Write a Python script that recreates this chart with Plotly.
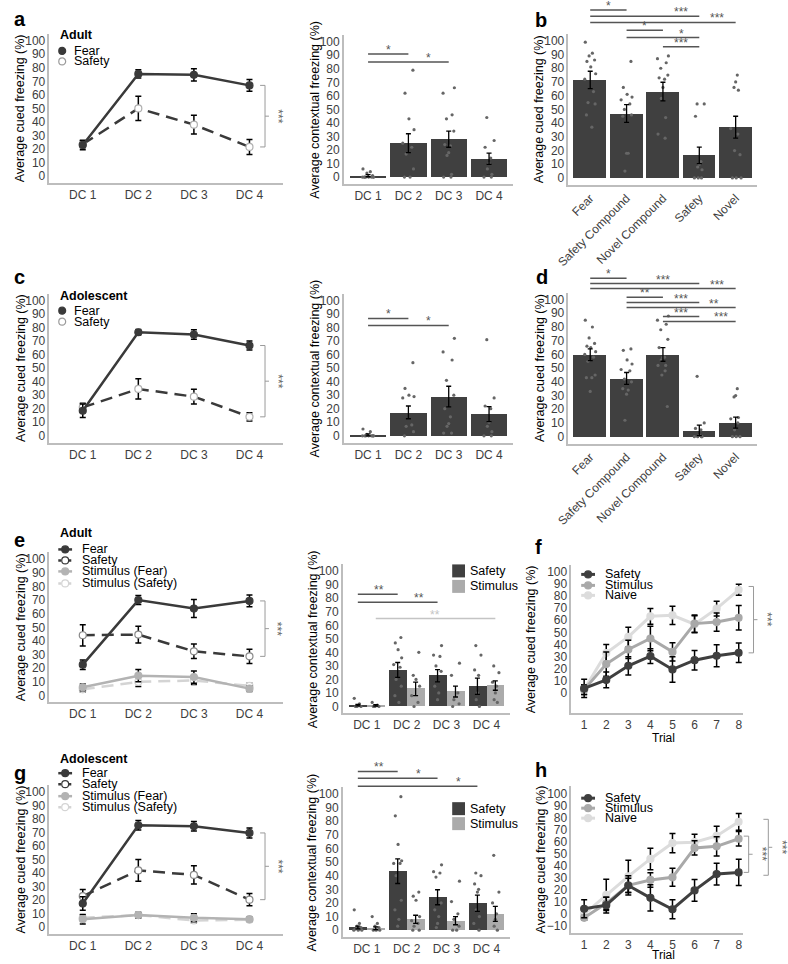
import plotly.graph_objects as go

W, H = 788, 964

# ---------------------------------------------------------------- data
DAYS = ["DC 1", "DC 2", "DC 3", "DC 4"]
PROBES = ["Fear", "Safety Compound", "Novel Compound", "Safety", "Novel"]
TRIALS = [1, 2, 3, 4, 5, 6, 7, 8]
PCT_TICKS = [0, 10, 20, 30, 40, 50, 60, 70, 80, 90, 100]
H_TICKS = [-10, 0, 10, 20, 30, 40, 50, 60, 70, 80, 90, 100]

# a - adult cued freezing across discrimination days
a_fear = [23, 75.5, 74.8, 67]
a_fear_err = [3.5, 3, 4.5, 4.3]
a_safety = [23.5, 50, 38, 21.5]
a_safety_err = [2.5, 9, 7, 5.5]

# a - adult contextual freezing
a_ctx = [1, 25, 28, 13.5]
a_ctx_err = [0.8, 7, 6, 4.2]
a_ctx_pts = [
    [6, 4, 3, 1, 0, 0, 0, 0, 0, 0, 0, 0],
    [79, 62, 43, 35, 25, 22, 17, 6, 0, 0],
    [66, 62, 46, 43, 34, 24, 23, 18, 16, 2, 0, 0],
    [44, 27, 22, 14, 10, 6, 2, 0, 0],
]

# b - adult probe test
b_cued = [71.5, 47, 63, 16.5, 37]
b_cued_err = [6.3, 6.5, 6.8, 6, 8]
b_pts = [
    [99, 91, 89, 86, 85, 81, 76, 72, 63, 55, 54, 46, 37],
    [85, 66, 61, 59, 57, 54, 50, 46, 45, 18, 18, 5],
    [89, 87, 84, 80, 75, 73, 72, 66, 58, 44, 32, 29],
    [54, 54, 45, 12, 10, 8, 6, 0, 0, 0],
    [75, 70, 66, 64, 36, 32, 20, 17, 0, 0, 0],
]

# c - adolescent cued freezing
c_fear = [18.5, 76.5, 74.8, 66.7]
c_fear_err = [5, 2, 3.5, 3.3]
c_safety = [21, 34.6, 28.9, 14]
c_safety_err = [3, 7.5, 5.5, 3]

# c - adolescent contextual freezing
c_ctx = [0.7, 17.3, 29, 16]
c_ctx_err = [0.7, 4.7, 7.6, 5.5]
c_ctx_pts = [
    [5, 3, 1, 0, 0, 0, 0, 0, 0, 0, 0],
    [54, 35, 30, 29, 28, 8, 7, 3, 0],
    [72, 62, 56, 41, 30, 20, 14, 9, 7, 2, 2],
    [71, 28, 22, 20, 10, 7, 3, 0, 0],
]

# d - adolescent probe test
d_cued = [59.7, 42.5, 60, 4.6, 10.3]
d_cued_err = [4.3, 4.3, 5, 3.8, 4]
d_pts = [
    [85, 80, 72, 68, 66, 65, 62, 60, 58, 55, 45, 43, 43, 33],
    [64, 63, 56, 53, 49, 48, 42, 40, 35, 34, 31, 12],
    [88, 85, 82, 78, 71, 65, 58, 58, 56, 52, 52, 48, 45, 22],
    [44, 10, 6, 5, 1, 0, 0, 0, 0],
    [35, 30, 29, 14, 13, 10, 5, 0, 0, 0],
]

# e - adult, safety vs stimulus groups
e_fear = [22.6, 70, 63.8, 69.4]
e_fear_err = [3.5, 3.3, 6.6, 4.3]
e_safety = [44.2, 44.7, 32.4, 28.7]
e_safety_err = [7.8, 6.2, 5.3, 5.3]
e_stim_fear = [6, 14.5, 13.5, 5]
e_stim_fear_err = [2.5, 4.5, 4.5, 2]
e_stim_safety = [4.5, 10, 11, 7]
e_stim_safety_err = [2, 3.5, 3, 2]

e_ctx_safety = [1, 27, 22.7, 15]
e_ctx_safety_err = [0.6, 5.5, 4.5, 6]
e_ctx_stim = [0.8, 13, 11, 15.5]
e_ctx_stim_err = [0.6, 5, 4, 3.5]
e_ctx_safety_pts = [[6, 2, 0, 0, 0], [51, 47, 42, 36, 31, 29, 20, 15, 8, 3],
                    [45, 38, 37, 30, 26, 15, 10, 5], [45, 38, 27, 23, 10, 5, 0]]
e_ctx_stim_pts = [[3, 1, 0, 0, 0], [40, 23, 20, 15, 8, 3, 0],
                  [32, 23, 10, 5, 2, 0], [30, 25, 18, 15, 10, 5, 3]]

# f - adult fear acquisition by trial
f_safety = [4, 11, 22.6, 30.5, 19.6, 27.2, 30.8, 33.2]
f_safety_err = [7.5, 6.5, 7.5, 6, 10.5, 8, 9, 8]
f_stimulus = [3, 24, 36, 45, 34, 57.2, 58.5, 62]
f_stimulus_err = [4, 10, 7.5, 10, 7.5, 7, 7.5, 10]
f_naive = [3, 33, 46.3, 63.2, 64, 56.7, 69.5, 85]
f_naive_err = [4, 7, 8, 6.5, 7.5, 7, 6, 4.5]

# g - adolescent, safety vs stimulus groups
g_fear = [17.5, 75.4, 74.6, 69.7]
g_fear_err = [5, 3.5, 3.5, 3.7]
g_safety = [23, 42, 38.7, 20.4]
g_safety_err = [5, 8, 6.7, 4.5]
g_stim_fear = [6, 9, 7, 6]
g_stim_fear_err = [3.5, 2, 3, 1.5]
g_stim_safety = [7, 9, 5, 5.5]
g_stim_safety_err = [2, 2, 2, 1.5]

g_ctx_safety = [2, 43.3, 24.2, 19.8]
g_ctx_safety_err = [1, 9, 5.5, 6]
g_ctx_stim = [1.5, 8, 7, 12]
g_ctx_stim_err = [1, 3, 3, 5.5]
g_ctx_safety_pts = [[15, 5, 3, 2, 1, 0, 0, 0], [98, 84, 63, 51, 49, 49, 40, 22, 15, 8, 3],
                    [48, 43, 42, 39, 20, 15, 10, 5, 2], [42, 40, 34, 30, 28, 15, 10, 5, 0]]
g_ctx_stim_pts = [[10, 5, 3, 2, 0, 0, 0], [28, 25, 22, 10, 7, 5, 3, 0, 0],
                  [36, 21, 12, 8, 3, 0, 0], [55, 28, 20, 12, 8, 3, 0]]

# h - adolescent fear acquisition by trial
h_safety = [4.5, 7.5, 23.9, 13.6, 4.1, 19.8, 33.4, 34.8]
h_safety_err = [7.5, 6.5, 8, 11, 8, 9, 9, 11]
h_stimulus = [-3, 9, 24, 28.5, 30.7, 55.2, 56.5, 62.8]
h_stimulus_err = [2, 5, 6, 6, 7.5, 6, 8, 6]
h_naive = [0, 16, 31.5, 46, 59.2, 60, 65.2, 76.9]
h_naive_err = [5, 13, 13.5, 9, 8, 6.5, 8, 7]

# significance lines: (from, to, height, label, label position)
a_sig = [(0, 1, 91, "*", 0.5), (0, 2, 85, "*", 1.5)]
b_sig = [(0, 1, 122.5, "*", 0.5), (0, 3, 118, "***", 2.5), (0, 4, 113.4, "***", 3.5),
         (1, 2, 107.8, "*", 1.5), (1, 3, 102.4, "*", 2.5), (2, 3, 95.6, "***", 2.5)]
c_sig = [(0, 1, 86.7, "*", 0.5), (0, 2, 81.5, "*", 1.5)]
d_sig = [(0, 1, 115.5, "*", 0.5), (0, 3, 111.7, "***", 2.0), (0, 4, 108, "***", 3.5),
         (1, 2, 101.7, "**", 1.5), (1, 3, 97.8, "***", 2.5), (1, 4, 94.2, "**", 3.4),
         (2, 3, 87.6, "***", 2.5), (2, 4, 84, "***", 3.6)]
e_sig = [(-0.225, 0.775, 83, "**", 0.31), (-0.225, 1.775, 77, "**", 1.32)]
e_sig_stim = [(0.225, 3.225, 65, "**", 1.72)]
g_sig = [(-0.225, 0.775, 116.6, "**", 0.3), (-0.225, 1.775, 111.5, "*", 1.3),
         (-0.225, 2.775, 105.6, "*", 2.3)]

# ---------------------------------------------------------------- layout geometry (pixels)
PANELS = {
    "a1": dict(x0=38, x1=275, yt=33, yb=182, xr=(-0.6, 3.6), yr=(-5, 105)),
    "a2": dict(x0=337, x1=509, yt=34, yb=183, xr=(-0.6, 3.6), yr=(-5, 105)),
    "b": dict(x0=565, x1=757, yt=33, yb=184, xr=(-0.6, 4.6), yr=(-5, 105)),
    "c1": dict(x0=38, x1=275, yt=293, yb=442, xr=(-0.6, 3.6), yr=(-5, 105)),
    "c2": dict(x0=337, x1=509, yt=293, yb=442, xr=(-0.6, 3.6), yr=(-5, 105)),
    "d": dict(x0=565, x1=757, yt=292, yb=443, xr=(-0.6, 4.6), yr=(-5, 105)),
    "e1": dict(x0=38, x1=275, yt=552, yb=702, xr=(-0.6, 3.6), yr=(-5, 105)),
    "e2": dict(x0=336, x1=506, yt=564, yb=713, xr=(-0.6, 3.6), yr=(-5, 105)),
    "f": dict(x0=568, x1=742, yt=565, yb=713, xr=(0.42, 8.18), yr=(-16.4, 105)),
    "g1": dict(x0=38, x1=275, yt=785, yb=934, xr=(-0.6, 3.6), yr=(-5, 105)),
    "g2": dict(x0=336, x1=506, yt=787, yb=937, xr=(-0.6, 3.6), yr=(-5, 105)),
    "h": dict(x0=568, x1=742, yt=786, yb=933, xr=(0.42, 8.18), yr=(-15.7, 106.6)),
}
ORDER = list(PANELS)

FONT = "Liberation Sans, Arial, sans-serif"
TICK = "#3d3d3d"
AXIS = "#bdbdbd"
SIG = "#555555"
BRK = "#9a9a9a"
DARK = "#3a3a3a"
BAR_DARK = "#404040"
BAR_LIGHT = "#ababab"
STIM_F = "#b3b3b3"
STIM_S = "#d4d4d4"
PT = "#666666"
F_SAF, F_STIM, F_NAIVE = "#3f3f3f", "#a9a9a9", "#dcdcdc"

JIT = [-0.9, 0.4, -0.2, 0.8, -0.6, 0.1, 1.0, -1.0, 0.6, -0.4, 0.9, -0.7, 0.3, 0.0, -0.3, 0.5]

fig = go.Figure()
shapes, annots = [], []


def ref(name):
    i = ORDER.index(name) + 1
    return ("x", "y") if i == 1 else (f"x{i}", f"y{i}")


def dx(p, v):
    return p["x0"] + (v - p["xr"][0]) / (p["xr"][1] - p["xr"][0]) * (p["x1"] - p["x0"])


def dy(p, v):
    return p["yb"] - (v - p["yr"][0]) / (p["yr"][1] - p["yr"][0]) * (p["yb"] - p["yt"])


def px(x):
    return x / W


def py(y):
    return 1 - y / H


def line(x0, y0, x1, y1, color, width=1.0, dash="solid"):
    shapes.append(dict(type="line", xref="paper", yref="paper", x0=px(x0), y0=py(y0),
                       x1=px(x1), y1=py(y1), line=dict(color=color, width=width, dash=dash)))


def text(x, y, s, size=12.5, color="black", xanchor="left", bold=False, angle=0, yshift=0):
    annots.append(dict(x=px(x), y=py(y), xref="paper", yref="paper", text=f"<b>{s}</b>" if bold else s,
                       showarrow=False, xanchor=xanchor, yanchor="middle", textangle=angle,
                       yshift=yshift, font=dict(size=size, color=color, family=FONT)))


def setup_axes(name, tickvals, ticktext, yticks, tickangle=0):
    p = PANELS[name]
    xr, yr = ref(name)
    common = dict(showline=True, linecolor=AXIS, linewidth=1.5, showgrid=False, zeroline=False,
                  ticks="", tickfont=dict(size=12, color=TICK, family=FONT), fixedrange=True)
    fig.update_layout(**{
        xr.replace("x", "xaxis"): dict(domain=[px(p["x0"]), px(p["x1"])], range=list(p["xr"]),
                                       anchor=yr, tickvals=tickvals, ticktext=ticktext,
                                       tickangle=tickangle, **common),
        yr.replace("y", "yaxis"): dict(domain=[py(p["yb"]), py(p["yt"])], range=list(p["yr"]),
                                       anchor=xr, tickvals=yticks, **common),
    })


def series(name, xs, ys, errs, color, width, fill, edge, dash="solid", ms=7):
    xr, yr = ref(name)
    fig.add_trace(go.Scatter(
        x=xs, y=ys, mode="lines+markers", xaxis=xr, yaxis=yr, showlegend=False, hoverinfo="skip",
        line=dict(color=color, width=width, dash=dash),
        marker=dict(size=ms, color=fill, line=dict(color=edge, width=1.2)),
        error_y=dict(type="data", array=errs, color="black", thickness=1.5, width=3),
    ))


def bars(name, means, errs, pts, color, offset=0.0, width=0.9, jit=0.14):
    xr, yr = ref(name)
    xs = [i + offset for i in range(len(means))]
    fig.add_trace(go.Bar(x=xs, y=means, width=width, xaxis=xr, yaxis=yr, showlegend=False,
                         hoverinfo="skip", marker=dict(color=color, line=dict(width=0))))
    jx, jy = [], []
    for i, vals in enumerate(pts):
        for k, v in enumerate(vals):
            jx.append(xs[i] + JIT[(k + 3 * i) % len(JIT)] * jit)
            jy.append(v)
    fig.add_trace(go.Scatter(x=jx, y=jy, mode="markers", xaxis=xr, yaxis=yr, showlegend=False,
                             hoverinfo="skip", marker=dict(size=3.2, color=PT)))
    fig.add_trace(go.Scatter(x=xs, y=means, mode="markers", xaxis=xr, yaxis=yr, showlegend=False,
                             hoverinfo="skip", marker=dict(size=1, color="rgba(0,0,0,0)"),
                             error_y=dict(type="data", array=errs, color="black",
                                          thickness=1.3, width=2.5)))


def sig_lines(name, specs, color=SIG):
    p = PANELS[name]
    for a, b, v, lab, xs in specs:
        y = dy(p, v)
        line(dx(p, a), y, dx(p, b), y, color, 1.5)
        text(dx(p, xs), y, lab, size=12, color=color, xanchor="center", yshift=4)


def bracket(name, xv, top, bottom, lab, gap=13):
    p = PANELS[name]
    x = dx(p, xv)
    yt, yb = dy(p, top), dy(p, bottom)
    ym = (yt + yb) / 2
    line(x, yt, x, yb, BRK)
    line(x - 5, yt, x, yt, BRK)
    line(x - 5, yb, x, yb, BRK)
    line(x, ym, x + 4, ym, BRK)
    text(x + gap, ym, lab, size=12, color="#666666", xanchor="center", angle=90)


def key(cx, cy, color, fill, edge, label, with_line, dash="solid", lw=2.5):
    if with_line:
        line(cx - 7, cy, cx + 7, cy, color, lw, dash)
    shapes.append(dict(type="circle", xref="paper", yref="paper", x0=px(cx - 3.5), x1=px(cx + 3.5),
                       y0=py(cy + 3.5), y1=py(cy - 3.5), fillcolor=fill,
                       line=dict(color=edge, width=1.2)))
    text(cx + (15 if with_line else 10), cy, label)


def box_key(x, cy, color, label):
    shapes.append(dict(type="rect", xref="paper", yref="paper", x0=px(x), x1=px(x + 13),
                       y0=py(cy + 6.5), y1=py(cy - 6.5), fillcolor=color, line=dict(width=0)))
    text(x + 16, cy, label)


x4 = [0, 1, 2, 3]
x5 = [0, 1, 2, 3, 4]

# ---------------------------------------------------------------- axes
for nm in ["a1", "a2", "c1", "c2", "e1", "e2", "g1", "g2"]:
    setup_axes(nm, x4, DAYS, PCT_TICKS)
for nm in ["b", "d"]:
    setup_axes(nm, x5, PROBES, PCT_TICKS, tickangle=-45)
setup_axes("f", TRIALS, [str(t) for t in TRIALS], PCT_TICKS)
setup_axes("h", TRIALS, [str(t) for t in TRIALS], H_TICKS)

# ---------------------------------------------------------------- a / c : cued freezing lines
for nm, fear, fe, saf, se, title, ys in [
    ("a1", a_fear, a_fear_err, a_safety, a_safety_err, "Adult", (34.5, 50, 60.5)),
    ("c1", c_fear, c_fear_err, c_safety, c_safety_err, "Adolescent", (295, 310, 321)),
]:
    series(nm, x4, saf, se, DARK, 2.5, "white", "#b0b0b0", dash="12px,7px")
    series(nm, x4, fear, fe, DARK, 2.5, DARK, DARK)
    bracket(nm, 3.28, fear[-1], saf[-1], "***")
    text(47, ys[0], title, bold=True)
    key(51, ys[1], DARK, DARK, DARK, "Fear", False)
    key(51, ys[2], DARK, "white", "#9a9a9a", "Safety", False)

# ---------------------------------------------------------------- e / g : four-line panels
for nm, data, title, ys in [
    ("e1", (e_fear, e_fear_err, e_safety, e_safety_err, e_stim_fear, e_stim_fear_err,
            e_stim_safety, e_stim_safety_err), "Adult", (533, 549, 560, 571, 583)),
    ("g1", (g_fear, g_fear_err, g_safety, g_safety_err, g_stim_fear, g_stim_fear_err,
            g_stim_safety, g_stim_safety_err), "Adolescent", (758.5, 773, 784, 796, 807)),
]:
    fr, fre, sf, sfe, stf, stfe, sts, stse = data
    series(nm, x4, sts, stse, STIM_S, 2.5, "white", STIM_S, dash="12px,7px")
    series(nm, x4, stf, stfe, STIM_F, 2.5, STIM_F, STIM_F)
    series(nm, x4, sf, sfe, DARK, 2.5, "white", "#8a8a8a", dash="12px,7px")
    series(nm, x4, fr, fre, DARK, 2.5, DARK, DARK)
    bracket(nm, 3.28, fr[-1], sf[-1], "***")
    text(47, ys[0], title, bold=True)
    key(54, ys[1], DARK, DARK, DARK, "Fear", True)
    key(54, ys[2], DARK, "white", DARK, "Safety", True, dash="3px,2px")
    key(54, ys[3], STIM_F, STIM_F, STIM_F, "Stimulus (Fear)", True)
    key(54, ys[4], STIM_S, "white", STIM_S, "Stimulus (Safety)", True, dash="3px,2px")

# ---------------------------------------------------------------- contextual freezing bars
bars("a2", a_ctx, a_ctx_err, a_ctx_pts, BAR_DARK)
sig_lines("a2", a_sig)
bars("c2", c_ctx, c_ctx_err, c_ctx_pts, BAR_DARK)
sig_lines("c2", c_sig)

for nm, saf, se, sp, stm, ste, stp, specs, ky in [
    ("e2", e_ctx_safety, e_ctx_safety_err, e_ctx_safety_pts, e_ctx_stim, e_ctx_stim_err,
     e_ctx_stim_pts, e_sig, (570.5, 586)),
    ("g2", g_ctx_safety, g_ctx_safety_err, g_ctx_safety_pts, g_ctx_stim, g_ctx_stim_err,
     g_ctx_stim_pts, g_sig, (808.5, 823.5)),
]:
    bars(nm, saf, se, sp, BAR_DARK, offset=-0.225, width=0.45, jit=0.1)
    bars(nm, stm, ste, stp, BAR_LIGHT, offset=0.225, width=0.45, jit=0.1)
    sig_lines(nm, specs)
    box_key(447, ky[0], BAR_DARK, "Safety")
    box_key(447, ky[1], BAR_LIGHT, "Stimulus")
sig_lines("e2", e_sig_stim, color="#c4c4c4")

# ---------------------------------------------------------------- probe test bars
bars("b", b_cued, b_cued_err, b_pts, BAR_DARK, jit=0.15)
sig_lines("b", b_sig)
bars("d", d_cued, d_cued_err, d_pts, BAR_DARK, jit=0.15)
sig_lines("d", d_sig)

# ---------------------------------------------------------------- trial curves
for nm, sets, ys in [
    ("f", ((f_naive, f_naive_err, F_NAIVE), (f_stimulus, f_stimulus_err, F_STIM),
           (f_safety, f_safety_err, F_SAF)), (574, 585, 595)),
    ("h", ((h_naive, h_naive_err, F_NAIVE), (h_stimulus, h_stimulus_err, F_STIM),
           (h_safety, h_safety_err, F_SAF)), (798, 808, 818)),
]:
    for vals, errs, col in sets:
        series(nm, TRIALS, vals, errs, col, 3, col, col, ms=7)
    key(585, ys[0], F_SAF, F_SAF, F_SAF, "Safety", True, lw=3)
    key(585, ys[1], F_STIM, F_STIM, F_STIM, "Stimulus", True, lw=3)
    key(585, ys[2], F_NAIVE, F_NAIVE, F_NAIVE, "Naive", True, lw=3)

bracket("f", 8.67, 87.7, f_safety[-1], "***", gap=14)
bracket("h", 8.45, 65, h_safety[-1], "***", gap=13)
bracket("h", 9.34, 79, 32.4, "***", gap=14)

# ---------------------------------------------------------------- axis titles and panel letters
for nm, xc in [("a1", 9), ("c1", 9), ("e1", 9), ("g1", 9), ("b", 536), ("d", 536),
               ("f", 527), ("h", 537)]:
    p = PANELS[nm]
    text(xc, (p["yt"] + p["yb"]) / 2, "Average cued freezing (%)", xanchor="center", angle=-90)
for nm, xc in [("a2", 308), ("c2", 308), ("e2", 305), ("g2", 305)]:
    p = PANELS[nm]
    text(xc, (p["yt"] + p["yb"]) / 2, "Average contextual freezing (%)", xanchor="center", angle=-90)
text(662, 738, "Trial", size=12, xanchor="center")
text(662, 955, "Trial", size=12, xanchor="center")

for lab, x, y in [("a", 8, 18), ("b", 537.5, 19), ("c", 8, 276), ("d", 538, 276),
                  ("e", 8, 540), ("f", 534.5, 547), ("g", 8, 773), ("h", 537, 770)]:
    text(x, y, lab, size=20, xanchor="center", bold=True)

fig.update_layout(
    width=W, height=H, margin=dict(l=0, r=0, t=0, b=0),
    paper_bgcolor="white", plot_bgcolor="white",
    font=dict(family=FONT, size=12, color="black"),
    showlegend=False, shapes=shapes, annotations=annots, bargap=0,
)

fig.write_html("out.html", config={"displayModeBar": False},
               post_script="document.body.style.margin='0';")
